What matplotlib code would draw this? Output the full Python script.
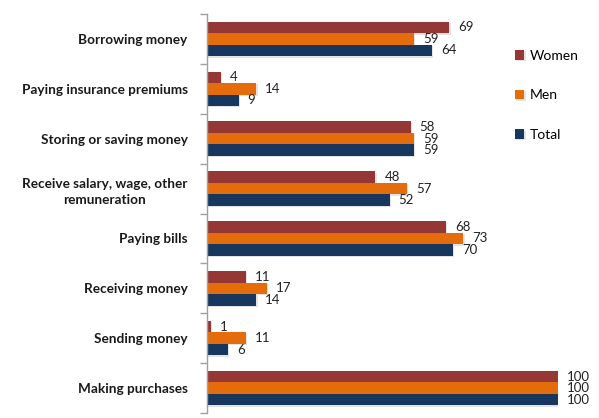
import matplotlib
matplotlib.use("Agg")
import matplotlib.pyplot as plt
import matplotlib.patheffects as pe
import numpy as np

categories = [
    "Borrowing money",
    "Paying insurance premiums",
    "Storing or saving money",
    "Receive salary, wage, other\nremuneration",
    "Paying bills",
    "Receiving money",
    "Sending money",
    "Making purchases",
]
women = [69, 4, 58, 48, 68, 11, 1, 100]
men = [59, 14, 59, 57, 73, 17, 11, 100]
total = [64, 9, 59, 52, 70, 14, 6, 100]

series = [("Women", women, "#953735"), ("Men", men, "#E46C0A"), ("Total", total, "#17375E")]

plt.rcParams["font.family"] = ["Lato", "DejaVu Sans"]

fig = plt.figure(figsize=(5.99, 4.18), dpi=100)
ax = fig.add_axes([207 / 599, 1 - 413 / 418, 351 / 599, 399 / 418])

n = len(categories)
y = np.arange(n)
bh = 0.23
shadow = [pe.SimplePatchShadow(offset=(1, -1), shadow_rgbFace="#b0b0b0", alpha=0.35), pe.Normal()]

handles = []
for i, (name, vals, color) in enumerate(series):
    pos = y + (i - 1) * bh
    bars = ax.barh(pos, vals, height=bh, color=color, label=name, path_effects=shadow)
    handles.append(bars)
    for p, v in zip(pos, vals):
        ax.text(v + 2.6, p, f"{v}", va="center", ha="left", fontsize=9.5,
                color="#222222", clip_on=False)

ax.set_xlim(0, 100)
ax.set_ylim(n - 0.5, -0.5)
ax.set_xticks([])
ax.set_yticks(y)
ax.set_yticklabels(categories, fontsize=9.8, fontweight="bold", color="#1a1a1a")
ax.tick_params(axis="y", which="major", length=0, pad=14)
ax.set_yticks(np.arange(n + 1) - 0.5, minor=True)
ax.tick_params(axis="y", which="minor", length=5, color="#a0a0a0", width=1)
for lbl in ax.get_yticklabels():
    lbl.set_multialignment("center")
    lbl.set_linespacing(1.45)

for s in ["top", "right", "bottom"]:
    ax.spines[s].set_visible(False)
ax.spines["left"].set_color("#a0a0a0")
ax.spines["left"].set_linewidth(1)

fig.legend(handles=handles, labels=[s[0] for s in series],
           loc="upper left", bbox_to_anchor=(502 / 599, 1 - 37 / 418),
           frameon=False, fontsize=10, handlelength=0.7, handleheight=0.7,
           handletextpad=0.4, labelspacing=2.0)

fig.savefig("out.png", dpi=100)
